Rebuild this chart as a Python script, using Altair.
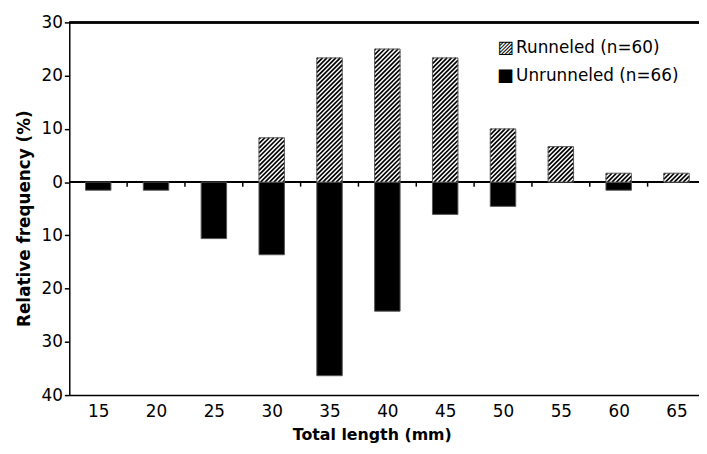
import altair as alt
import pandas as pd
import numpy as np

# ---- data ----
lengths = [15, 20, 25, 30, 35, 40, 45, 50, 55, 60, 65]
runneled = [0, 0, 0, 8.33, 23.33, 25.0, 23.33, 10.0, 6.67, 1.67, 1.67]
unrunneled = [1.52, 1.52, 10.61, 13.64, 36.36, 24.24, 6.06, 4.55, 0, 1.52, 0]
y_ticks = [-40, -30, -20, -10, 0, 10, 20, 30]
legend_labels = ["Runneled (n=60)", "Unrunneled (n=66)"]
legend_symbols = ["\u25A8", "\u25A0"]

# ---- geometry ----
W, H = 637, 377
X_MIN = 12.5
PX_PER_MM = 11.7
X_MAX = X_MIN + W / PX_PER_MM
Y_MIN, Y_MAX = -40, 30
PX_PER_PCT = H / (Y_MAX - Y_MIN)
HALF = 1.1
FONT = "DejaVu Sans"

boundaries = [l + 2.5 for l in lengths[:-1]]

bars = pd.DataFrame({"length": lengths, "runneled": runneled, "unrunneled": unrunneled})
bars["x0"] = bars["length"] - HALF
bars["x1"] = bars["length"] + HALF
bars["zero"] = 0.0
bars["neg"] = -bars["unrunneled"]
pos = bars[bars["runneled"] > 0]
neg = bars[bars["unrunneled"] > 0]

# hatch segments derived from the runneled bars
period = 4.5
segs = []
for _, r in pos.iterrows():
    u0 = (r["x0"] - X_MIN) * PX_PER_MM
    u1 = (r["x1"] - X_MIN) * PX_PER_MM
    V = r["runneled"] * PX_PER_PCT
    k = np.floor((u0 - V) / period) * period
    while k < u1:
        lo = max(u0, k)
        hi = min(u1, k + V)
        if hi - lo > 0.4:
            segs.append({
                "hx0": X_MIN + lo / PX_PER_MM, "hy0": (lo - k) / PX_PER_PCT,
                "hx1": X_MIN + hi / PX_PER_MM, "hy1": (hi - k) / PX_PER_PCT,
            })
        k += period
hatch = pd.DataFrame(segs)

xscale = alt.Scale(domain=[X_MIN, X_MAX], nice=False, zero=False)
yscale = alt.Scale(domain=[Y_MIN, Y_MAX], nice=False, zero=False)
xaxis = alt.Axis(values=lengths, title="Total length (mm)", tickSize=0, labelPadding=9,
                 domainColor="black", domainWidth=1.5, grid=False, titlePadding=7,
                 titleX=306, titleFontSize=16)
yaxis = alt.Axis(values=y_ticks, title="Relative frequency (%)", labelExpr="abs(datum.value)",
                 tickSize=5, tickColor="black", tickWidth=1.5, labelPadding=2,
                 domainColor="black", domainWidth=1.5, grid=False, titlePadding=8,
                 titleY=198)


def X(field):
    return alt.X(field, type="quantitative", scale=xscale, axis=xaxis)


def Y(field):
    return alt.Y(field, type="quantitative", scale=yscale, axis=yaxis)


top_rule = alt.Chart(pos).mark_rule(color="black", strokeWidth=1.5).encode(
    y=alt.Y(datum=Y_MAX, type="quantitative", scale=yscale, axis=yaxis))
zero_rule = alt.Chart(pos).mark_rule(color="black", strokeWidth=1.5).encode(
    y=alt.Y(datum=0, type="quantitative", scale=yscale, axis=yaxis))

ticks = alt.Chart(pd.DataFrame({"b": boundaries, "y0": 0.0, "y1": -0.85})).mark_rule(
    color="black", strokeWidth=1.5).encode(x=X("b"), y=Y("y0"), y2="y1")

neg_bars = alt.Chart(neg).mark_rect(color="black", stroke="#555555", strokeWidth=1).encode(
    x=X("x0"), x2="x1", y=Y("zero"), y2="neg")

pos_fill = alt.Chart(pos).mark_rect(fill="white", strokeWidth=0).encode(
    x=X("x0"), x2="x1", y=Y("zero"), y2="runneled")

hatch_lines = alt.Chart(hatch).mark_rule(color="black", strokeWidth=1.7).encode(
    x=X("hx0"), x2="hx1", y=Y("hy0"), y2="hy1")

pos_outline = alt.Chart(pos).mark_rect(fill="white", fillOpacity=0, stroke="#555555", strokeWidth=1).encode(
    x=X("x0"), x2="x1", y=Y("zero"), y2="runneled")

leg = pd.DataFrame({"label": legend_labels, "sym": legend_symbols, "row": [0, 1]})
ROW_Y = [26, 54]
leg_layers = []
for i in range(2):
    d = leg[leg["row"] == i]
    leg_layers.append(alt.Chart(d).mark_text(font=FONT, fontSize=18, align="left", baseline="middle",
                                             color="black").encode(
        x=alt.value(433), y=alt.value(ROW_Y[i]), text="sym"))
    leg_layers.append(alt.Chart(d).mark_text(font=FONT, fontSize=17, align="left", baseline="middle",
                                             color="black").encode(
        x=alt.value(452), y=alt.value(ROW_Y[i]), text="label"))

chart = alt.layer(top_rule, zero_rule, ticks, neg_bars, pos_fill, hatch_lines, pos_outline,
                  *leg_layers).properties(
    width=W, height=H,
    autosize=alt.AutoSizeParams(type="none"),
    padding={"left": 62, "top": 12, "right": 0, "bottom": 54},
).configure_view(stroke=None).configure_axis(
    labelFont=FONT, labelFontSize=17, labelColor="black",
    titleFont=FONT, titleFontSize=17, titleFontWeight="bold", titleColor="black",
)

chart.save("out.html", embed_options={"renderer": "svg", "actions": False})
